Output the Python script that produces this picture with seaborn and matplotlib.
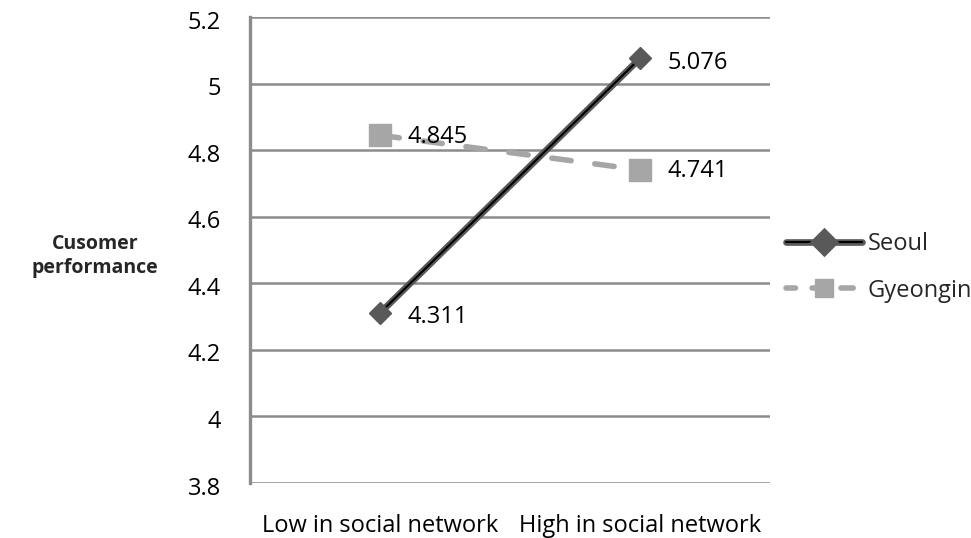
import matplotlib
matplotlib.use("Agg")
import matplotlib.pyplot as plt
import matplotlib.patheffects as pe
import matplotlib.transforms as mtransforms
from matplotlib.lines import Line2D
import seaborn as sns
import pandas as pd

categories = ["Low in social network", "High in social network"]
seoul = [4.311, 5.076]
gyeongin = [4.845, 4.741]
y_ticks = [3.8, 4.0, 4.2, 4.4, 4.6, 4.8, 5.0, 5.2]
y_tick_labels = ["3.8", "4", "4.2", "4.4", "4.6", "4.8", "5", "5.2"]

sns.set_theme(style="white")
plt.rcParams["font.family"] = ["Open Sans", "DejaVu Sans"]

df = pd.DataFrame({
    "group": categories * 2,
    "value": seoul + gyeongin,
    "region": ["Seoul"] * 2 + ["Gyeongin"] * 2,
})

fig = plt.figure(figsize=(9.71, 5.38), dpi=100)
ax = fig.add_axes([0.2575, 0.1022, 0.5355, 0.866])

dark = "#595959"
light = "#a6a6a6"
grid_c = "#8c8c8c"
fs = 17

sns.lineplot(data=df, x="group", y="value", hue="region", style="region",
             hue_order=["Seoul", "Gyeongin"], style_order=["Seoul", "Gyeongin"],
             palette={"Seoul": "black", "Gyeongin": light},
             markers={"Seoul": "D", "Gyeongin": "s"},
             dashes={"Seoul": "", "Gyeongin": (3.5, 4.3)},
             legend=False, ax=ax, zorder=3)

seoul_line, gy_line = ax.lines[0], ax.lines[1]
seoul_line.set_linewidth(1.5)
seoul_line.set_path_effects([pe.Stroke(linewidth=4.8, foreground=dark), pe.Normal()])
seoul_line.set_marker("None")
gy_line.set_linewidth(4.0)
gy_line.set_marker("None")
gy_line.set_dash_capstyle("round")

# markers drawn on top of the lines
ax.plot([0, 1], seoul, linestyle="none", marker="D", markersize=11.5,
        markerfacecolor=dark, markeredgecolor=dark, zorder=5)
ax.plot([0, 1], gyeongin, linestyle="none", marker="s", markersize=15.5,
        markerfacecolor=light, markeredgecolor=light, zorder=5)

for i, v in enumerate(seoul):
    ax.annotate(f"{v:.3f}", (i, v), xytext=(20, -3), textcoords="offset points",
                ha="left", va="center", fontsize=fs, color="black", zorder=6)
for i, v in enumerate(gyeongin):
    ax.annotate(f"{v:.3f}", (i, v), xytext=(20, -1), textcoords="offset points",
                ha="left", va="center", fontsize=fs, color="black", zorder=6)

ax.set_xlim(-0.5, 1.5)
ax.set_ylim(3.8, 5.2)
ax.set_yticks(y_ticks)
ax.set_yticklabels(y_tick_labels)
ax.set_xticks([0, 1])
ax.set_xticklabels(categories)
ax.tick_params(axis="both", length=0, labelsize=fs, colors="black")
ax.tick_params(axis="y", pad=21)
ax.tick_params(axis="x", pad=22)
ax.set_xlabel("")
ax.set_ylabel("")

shift = mtransforms.ScaledTranslation(0, -2.5 / 100, fig.dpi_scale_trans)
for lab in ax.get_yticklabels():
    lab.set_transform(lab.get_transform() + shift)

for y in y_ticks:
    ax.axhline(y, color=grid_c, linewidth=1.8, zorder=1, solid_capstyle="butt")
for s in ["top", "right", "bottom"]:
    ax.spines[s].set_visible(False)
ax.spines["left"].set_color(grid_c)
ax.spines["left"].set_linewidth(2.4)

fig.text(0.098, 0.524, "Cusomer\nperformance", ha="center", va="center",
         fontsize=14, fontweight="bold", linespacing=1.3)

handles = [
    Line2D([], [], color="black", linewidth=1.5, marker="D", markersize=10,
           markerfacecolor=dark, markeredgecolor=dark,
           path_effects=[pe.Stroke(linewidth=4.8, foreground=dark), pe.Normal()]),
    Line2D([], [], color=light, linewidth=4.0, linestyle=(0.5, (2.2, 3.0)),
           dash_capstyle="round", marker="s", markersize=13.5,
           markerfacecolor=light, markeredgecolor=light),
]
fig.legend(handles, ["Seoul", "Gyeongin"], loc="center left",
           bbox_to_anchor=(0.800, 0.503), frameon=False, fontsize=fs,
           handlelength=3.2, handletextpad=0.25, labelspacing=0.95,
           borderaxespad=0.0)

fig.savefig("out.png", dpi=100)
